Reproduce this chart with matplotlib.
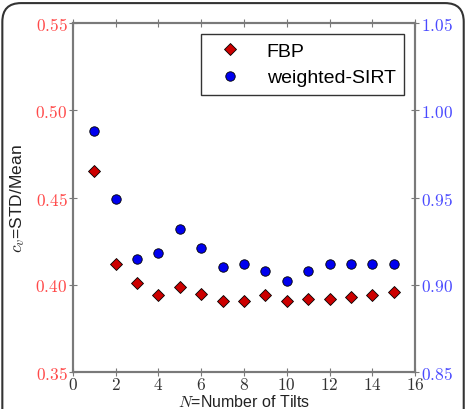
import numpy as np
import matplotlib
matplotlib.use('Agg')
import matplotlib.pyplot as plt
from matplotlib.ticker import FuncFormatter, MultipleLocator
from matplotlib.patches import FancyBboxPatch

plt.rcParams['mathtext.fontset'] = 'cm'
plt.rcParams['font.family'] = ['Liberation Sans', 'DejaVu Sans']

tilts = [1, 2, 3, 4, 5, 6, 7, 8, 9, 10, 11, 12, 13, 14, 15]
fbp = [0.465, 0.412, 0.401, 0.394, 0.399, 0.395, 0.391, 0.391, 0.394,
       0.391, 0.392, 0.392, 0.393, 0.394, 0.396]
sirt = [0.988, 0.949, 0.915, 0.918, 0.932, 0.921, 0.910, 0.912, 0.908,
        0.902, 0.908, 0.912, 0.912, 0.912, 0.912]

red_lab = '#ff4a4a'
blue_lab = '#4a4aff'
spine_c = '#7a7a7a'

fig = plt.figure(figsize=(4.67, 4.10), dpi=100)

# rounded frame around the figure, bottom edge runs off the picture
frame = FancyBboxPatch((0.005, -0.2), 0.988, 1.19, boxstyle="round,pad=0,rounding_size=0.04",
                       transform=fig.transFigure, fill=False, edgecolor='#333333',
                       linewidth=1.5, mutation_aspect=467/410)
fig.patches.append(frame)

ax = fig.add_axes([0.1563, 0.09, 0.7324, 0.8515])
ax2 = ax.twinx()

l1, = ax.plot(tilts, fbp, linestyle='none', marker='D', markersize=5.8,
              markerfacecolor='#cc0000', markeredgecolor='black', markeredgewidth=0.6,
              label='FBP')
l2, = ax2.plot(tilts, sirt, linestyle='none', marker='o', markersize=6.8,
               markerfacecolor='#0000ee', markeredgecolor='black', markeredgewidth=0.6,
               label='weighted-SIRT')

ax.set_xlim(0, 16)
ax.set_ylim(0.35, 0.55)
ax2.set_ylim(0.85, 1.05)
ax.xaxis.set_major_locator(MultipleLocator(2))
ax.yaxis.set_major_locator(MultipleLocator(0.05))
ax2.yaxis.set_major_locator(MultipleLocator(0.05))

mfmt_int = FuncFormatter(lambda v, p: '$%d$' % round(v))
mfmt = FuncFormatter(lambda v, p: '$%.2f$' % v)
ax.xaxis.set_major_formatter(mfmt_int)
ax.yaxis.set_major_formatter(mfmt)
ax2.yaxis.set_major_formatter(mfmt)

ax.tick_params(axis='x', which='both', direction='inout', length=6, width=0.8,
               color=spine_c, labelsize=12.5, labelcolor='#333333', top=True, pad=0)
ax.tick_params(axis='y', direction='inout', length=6, width=0.8, color=spine_c,
               labelsize=12.5, labelcolor=red_lab, pad=1)
ax2.tick_params(axis='y', direction='inout', length=6, width=0.8, color=spine_c,
                labelsize=12.5, labelcolor=blue_lab, pad=1)

for a in (ax, ax2):
    for s in a.spines.values():
        s.set_color(spine_c)
        s.set_linewidth(1.5)

ax.set_ylabel('$c_v$=STD/Mean', fontsize=12.5, color='#222222', labelpad=6)
ax.set_xlabel('$N$=Number of Tilts', fontsize=11.5, color='#222222', labelpad=0.5)

leg = ax.legend(handles=[l1, l2], loc='upper right', numpoints=1, fontsize=14,
                fancybox=False, framealpha=1, edgecolor='#333333',
                borderaxespad=0.55, handletextpad=0.9, borderpad=0.45,
                labelspacing=0.45, handlelength=2.0)
leg.get_frame().set_linewidth(1.0)

fig.savefig('out.png', dpi=100)
